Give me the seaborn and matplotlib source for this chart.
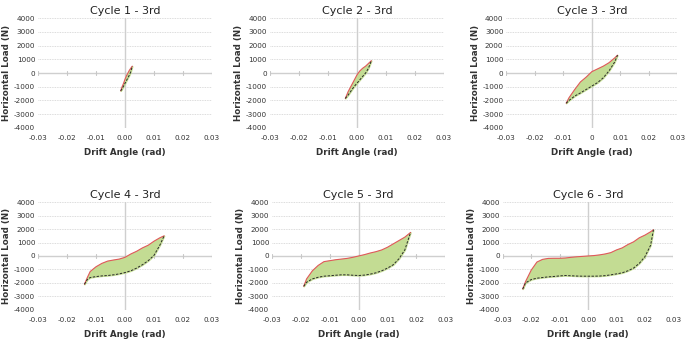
import numpy as np
import pandas as pd
import matplotlib
matplotlib.use("Agg")
import matplotlib.pyplot as plt
import seaborn as sns

# hysteresis loops: drift angle (rad) vs load (N)
titles = ["Cycle 1 - 3rd", "Cycle 2 - 3rd", "Cycle 3 - 3rd",
          "Cycle 4 - 3rd", "Cycle 5 - 3rd", "Cycle 6 - 3rd"]

c1_x = [-0.0015, -0.001, -0.0005, 0, 0.0005, 0.001, 0.0015, 0.002, 0.0025]
c1_up = [-1300, -1000, -750, -450, -200, 0, 200, 350, 500]
c1_lo = [-1300, -1150, -950, -750, -550, -350, -150, 100, 500]

c2_x = [-0.004, -0.003, -0.002, -0.001, 0, 0.001, 0.002, 0.003, 0.004, 0.005]
c2_up = [-1850, -1350, -950, -550, -150, 150, 350, 500, 700, 900]
c2_lo = [-1850, -1600, -1300, -1000, -750, -500, -250, 0, 350, 900]

c3_x = [-0.009, -0.008, -0.006, -0.004, -0.002, 0, 0.002, 0.004, 0.006, 0.008, 0.009]
c3_up = [-2200, -1800, -1200, -650, -300, 100, 300, 500, 750, 1100, 1300]
c3_lo = [-2200, -2000, -1680, -1450, -1200, -950, -700, -350, 150, 800, 1300]

c4_x = [-0.014, -0.013, -0.012, -0.010, -0.008, -0.006, -0.004, -0.002, 0,
        0.002, 0.004, 0.006, 0.008, 0.010, 0.012, 0.0135]
c4_up = [-2100, -1600, -1150, -800, -550, -380, -300, -230, -100,
         150, 350, 600, 800, 1100, 1350, 1500]
c4_lo = [-2100, -1750, -1600, -1530, -1480, -1450, -1400, -1330, -1230,
         -1100, -900, -650, -350, 50, 800, 1500]

c5_x = [-0.019, -0.018, -0.016, -0.014, -0.012, -0.010, -0.008, -0.006, -0.004, -0.002,
        0, 0.002, 0.004, 0.006, 0.008, 0.010, 0.012, 0.014, 0.016, 0.018]
c5_up = [-2250, -1700, -1100, -700, -420, -350, -280, -230, -180, -100,
         0, 100, 220, 320, 450, 650, 900, 1150, 1400, 1750]
c5_lo = [-2250, -1950, -1700, -1580, -1500, -1470, -1430, -1400, -1400, -1430,
         -1450, -1420, -1350, -1250, -1100, -900, -650, -200, 450, 1750]

c6_x = [-0.023, -0.022, -0.020, -0.018, -0.016, -0.014, -0.012, -0.010, -0.008, -0.006,
        -0.004, -0.002, 0, 0.002, 0.004, 0.006, 0.008, 0.010, 0.012, 0.014,
        0.016, 0.018, 0.020, 0.022, 0.023]
c6_up = [-2450, -1900, -1050, -450, -250, -180, -170, -170, -150, -100,
         -60, -30, 0, 30, 80, 150, 250, 450, 600, 850,
         1050, 1350, 1550, 1800, 1950]
c6_lo = [-2450, -2000, -1750, -1650, -1600, -1550, -1520, -1480, -1450, -1470,
         -1490, -1500, -1500, -1500, -1490, -1460, -1400, -1330, -1250, -1100,
         -900, -550, -50, 800, 1950]

x_ticks = [-0.03, -0.02, -0.01, 0.0, 0.01, 0.02, 0.03]
x_labels = ["-0.03", "-0.02", "-0.01", "0.00", "0.01", "0.02", "0.03"]
x_labels_c3 = ["-0.03", "-0.02", "-0.01", "0", "0.01", "0.02", "0.03"]
y_ticks = [-4000, -3000, -2000, -1000, 0, 1000, 2000, 3000, 4000]

cycles = [(c1_x, c1_up, c1_lo), (c2_x, c2_up, c2_lo), (c3_x, c3_up, c3_lo),
          (c4_x, c4_up, c4_lo), (c5_x, c5_up, c5_lo), (c6_x, c6_up, c6_lo)]

sns.set_style("white")
plt.rcParams['font.family'] = ['DejaVu Sans']

fig = plt.figure(figsize=(6.85, 3.42), dpi=100)

# axes boxes (left, bottom, width, height) in figure fraction
boxes = [
    (0.0555, 0.626, 0.254, 0.321),
    (0.394, 0.626, 0.254, 0.321),
    (0.739, 0.626, 0.250, 0.321),
    (0.0555, 0.094, 0.254, 0.315),
    (0.397, 0.094, 0.253, 0.315),
    (0.734, 0.094, 0.249, 0.315),
]

for i, (cx, up, lo) in enumerate(cycles):
    ax = fig.add_axes(boxes[i])
    df = pd.DataFrame({"x": cx, "up": up, "lo": lo})

    ax.fill_between(df["x"], df["lo"], df["up"], color="#c3dc93", zorder=2)
    sns.lineplot(data=df, x="x", y="up", ax=ax, color="#e0585a", lw=0.8, sort=False, zorder=3)
    sns.lineplot(data=df, x="x", y="lo", ax=ax, color="#2a2a2a", lw=0.7, ls=(0, (2.5, 1.5)),
                 sort=False, zorder=3)

    ax.set_xlim(-0.03, 0.03)
    ax.set_ylim(-4000, 4000)
    ax.set_yticks(y_ticks)
    ax.set_yticklabels([str(v) for v in y_ticks])
    ax.set_xticks(x_ticks)
    ax.set_xticklabels(x_labels_c3 if i == 2 else x_labels)

    # excel style: dotted horizontal grid, axes crossing at origin
    for v in y_ticks:
        ax.axhline(v, color="#d0d0d0", lw=0.6, ls=(0, (1, 1)), zorder=0)
    ax.axvline(0, color="#cfcfcf", lw=1.0, zorder=1)
    ax.axhline(0, color="#cfcfcf", lw=1.0, zorder=1)
    for t in x_ticks:
        ax.plot([t, t], [-180, 180], color="#c8c8c8", lw=0.8, zorder=1)

    for s in ax.spines.values():
        s.set_visible(False)
    ax.tick_params(axis="y", length=0, labelsize=5.2, pad=2, colors="#333333")
    ax.tick_params(axis="x", length=0, labelsize=5.2, pad=5, colors="#333333")

    ax.set_title(titles[i], fontsize=8, pad=3, color="#222222")
    ax.set_xlabel("Drift Angle (rad)", fontsize=6.3, fontweight="bold", labelpad=5, color="#333333")
    ax.set_ylabel("Horizontal Load (N)", fontsize=6.3, fontweight="bold", labelpad=2, color="#333333")

fig.savefig("out.png", dpi=100)
